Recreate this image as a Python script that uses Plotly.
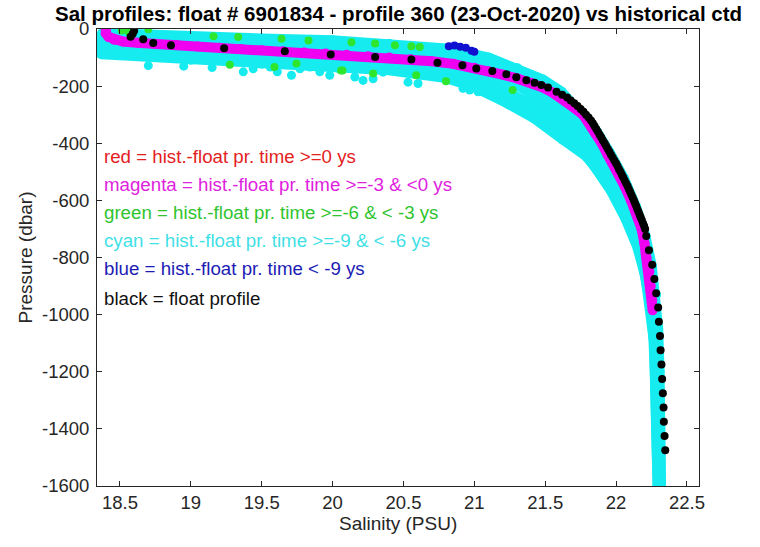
import plotly.graph_objects as go

# ---------------- data ----------------
# float profile (black)
float_sal = [18.60, 18.59, 18.575, 18.664, 18.735, 18.86, 19.235, 19.663, 19.987, 20.30,
             20.556, 20.74, 20.916, 21.014, 21.127, 21.226, 21.296, 21.367, 21.425, 21.473,
             21.52, 21.58, 21.62, 21.655, 21.68, 21.705, 21.728, 21.75, 21.77, 21.788,
             21.806, 21.823, 21.836, 21.848, 21.86, 21.872, 21.884, 21.896, 21.907, 21.919,
             21.93, 21.942, 21.953, 21.964, 21.976, 21.988, 22.0, 22.01, 22.02, 22.031,
             22.041, 22.051, 22.061, 22.071, 22.081, 22.09, 22.099, 22.108, 22.117, 22.126,
             22.134, 22.142, 22.15, 22.158, 22.166, 22.174, 22.182, 22.19, 22.198, 22.205,
             22.213, 22.232, 22.255, 22.27, 22.283, 22.297, 22.302, 22.31, 22.314, 22.32,
             22.325, 22.33, 22.335, 22.337, 22.342, 22.347]
float_pres = [-6, -17, -27, -36, -49, -57, -67, -78, -89, -98,
              -107, -118, -127, -138, -147, -158, -169, -179, -188, -196,
              -205, -220, -230, -240, -250, -260, -270, -280, -290, -300,
              -310, -320, -330, -340, -350, -360, -370, -380, -390, -400,
              -410, -420, -430, -440, -450, -460, -470, -480, -490, -500,
              -510, -520, -530, -540, -550, -560, -570, -580, -590, -600,
              -610, -620, -630, -640, -650, -660, -670, -680, -690, -700,
              -725, -775, -825, -875, -925, -975, -1025, -1075, -1125, -1175,
              -1225, -1275, -1325, -1375, -1425, -1475]

# historical profiles >=-3 & <0 ys (magenta)
mag_sal = [18.40, 18.40, 18.42, 18.46, 18.52, 18.62, 18.75, 18.90, 19.05, 19.20,
           19.35, 19.50, 19.65, 19.80, 19.95, 20.10, 20.25, 20.40, 20.55, 20.70,
           20.85, 21.00, 21.10, 21.20, 21.30, 21.40, 21.48, 21.55, 21.61, 21.66,
           21.715, 21.767, 21.81, 21.855, 21.898, 21.94, 21.975, 22.01, 22.06, 22.105,
           22.145, 22.18, 22.20, 22.215, 22.235, 22.245, 22.255, 22.258]
mag_pres = [-2, -15, -28, -38, -44, -48, -52, -56, -61, -66,
            -70, -74, -78, -82, -86, -90, -95, -100, -106, -113,
            -122, -136, -148, -160, -173, -188, -204, -222, -240, -255,
            -280, -300, -330, -365, -400, -440, -470, -500, -550, -600,
            -650, -700, -750, -800, -850, -900, -950, -985]

# historical profiles >=-9 & <-6 ys (cyan)
cyan1_sal = [18.38, 18.6, 19.0, 19.5, 20.0, 20.4, 20.8, 21.1, 21.3, 21.48,
             21.61, 21.725, 21.85, 21.95, 22.05, 22.135, 22.2, 22.245, 22.275, 22.29,
             22.30, 22.305, 22.31]
cyan1_pres = [-17, -22, -31, -37, -43, -55, -72, -103, -140, -180,
              -222, -285, -355, -435, -525, -625, -725, -830, -930, -1050,
              -1200, -1400, -1600]
cyan2_sal = [18.37, 18.6, 19.0, 19.5, 20.0, 20.4, 20.8, 21.1, 21.3, 21.47,
             21.62, 21.75, 21.865, 21.97, 22.07, 22.145, 22.205, 22.245, 22.27, 22.29,
             22.30, 22.31]
cyan2_pres = [-33, -40, -50, -58, -65, -77, -95, -125, -163, -208,
              -260, -325, -400, -490, -590, -690, -800, -910, -1020, -1150,
              -1350, -1600]
cyan3_sal = [18.37, 18.6, 19.0, 19.5, 20.0, 20.4, 20.8, 21.1, 21.3, 21.46,
             21.6, 21.74, 21.88, 22.0, 22.1, 22.17, 22.225, 22.26, 22.28, 22.29,
             22.30, 22.305]
cyan3_pres = [-50, -57, -68, -78, -86, -98, -118, -150, -192, -240,
              -295, -365, -450, -550, -650, -750, -870, -980, -1100, -1250,
              -1400, -1600]
cyan4_sal = [18.37, 18.6, 19.0, 19.5, 20.0, 20.4, 20.8, 21.0, 21.2, 21.4,
             21.56, 21.7, 21.84, 21.97, 22.07, 22.155, 22.215, 22.25, 22.27, 22.28,
             22.29, 22.30]
cyan4_pres = [-68, -73, -86, -98, -107, -120, -145, -172, -215, -268,
              -325, -390, -470, -565, -660, -760, -870, -980, -1080, -1200,
              -1400, -1600]
cyan5_sal = [18.37, 18.5, 19.0, 19.5, 20.0, 20.4, 20.8, 21.0, 21.2, 21.42,
             21.63, 21.8, 21.97, 22.09, 22.18, 22.23, 22.26, 22.275, 22.285, 22.29,
             22.295, 22.30]
cyan5_pres = [-85, -88, -104, -118, -128, -141, -168, -200, -248, -308,
              -385, -445, -555, -665, -780, -900, -1000, -1100, -1250, -1400,
              -1500, -1600]
cyan_dots_sal = [18.70, 18.95, 19.15, 19.37, 19.44, 19.56, 19.61, 19.71, 19.77, 19.84,
                 19.91, 19.98, 20.05, 20.157, 20.215, 20.286, 20.356, 20.532, 20.603, 20.638,
                 20.733, 20.802, 20.86, 20.92, 20.967, 21.026, 21.096, 21.179, 21.249, 21.367]
cyan_dots_pres = [-128, -130, -135, -150, -139, -133, -150, -162, -139, -133,
                  -150, -162, -140, -168, -180, -174, -151, -186, -191, -162,
                  -162, -180, -168, -208, -214, -220, -214, -231, -243, -260]

# historical profiles >=-6 & <-3 ys (green)
green_sal = [18.512, 18.56, 18.70, 19.16, 19.334, 19.64, 19.83, 19.275, 19.59, 19.745,
             20.06, 20.133, 20.30, 20.44, 20.556, 20.615, 20.07, 20.286, 20.59, 20.80,
             21.27]
green_pres = [-5, -10, -1, -25, -28, -34, -40, -125, -133, -121,
              -145, -46, -51, -57, -60, -63, -145, -156, -162, -183,
              -214]

# historical profiles < -9 ys (blue)
blue_sal = [20.82, 20.86, 20.90, 20.94, 20.98, 21.00]
blue_pres = [-60, -58, -62, -66, -76, -80]

# axes ticks
x_ticks = [18.5, 19, 19.5, 20, 20.5, 21, 21.5, 22, 22.5]
x_tick_labels = ["18.5", "19", "19.5", "20", "20.5", "21", "21.5", "22", "22.5"]
y_ticks = [0, -200, -400, -600, -800, -1000, -1200, -1400, -1600]
y_tick_labels = ["0", "-200", "-400", "-600", "-800", "-1000", "-1200", "-1400", "-1600"]

# in-plot legend text
legend_texts = ["red = hist.-float pr. time >=0 ys",
                "magenta = hist.-float pr. time >=-3 & <0 ys",
                "green = hist.-float pr. time >=-6 & < -3 ys",
                "cyan = hist.-float pr. time >=-9 & < -6 ys",
                "blue = hist.-float pr. time < -9 ys",
                "black = float profile"]
legend_pres = [-448, -546, -644, -742, -840, -942]
legend_sal = 18.394

title_text = "Sal profiles: float # 6901834 - profile 360 (23-Oct-2020) vs historical ctd"
x_label = "Salinity (PSU)"
y_label = "Pressure (dbar)"

# ---------------- styles ----------------
C_CYAN = "#16ecf0"
C_MAG = "#f000f0"
C_GREEN = "#2ee62e"
C_BLUE = "#1010d0"
C_BLACK = "#000000"
legend_colors = ["#e3211e", "#de22de", "#2fc42f", "#3fdfe6", "#1c1cb4", "#111111"]
FONT = "Liberation Sans, Arial, Helvetica, sans-serif"
AX = "#262626"

fig = go.Figure()

for s, p in [(cyan1_sal, cyan1_pres), (cyan2_sal, cyan2_pres), (cyan3_sal, cyan3_pres),
             (cyan4_sal, cyan4_pres), (cyan5_sal, cyan5_pres)]:
    fig.add_trace(go.Scatter(x=s, y=p, mode="lines+markers",
                             line=dict(color=C_CYAN, width=12),
                             marker=dict(color=C_CYAN, size=12, line=dict(width=0)),
                             hoverinfo="skip", showlegend=False))
fig.add_trace(go.Scatter(x=cyan_dots_sal, y=cyan_dots_pres, mode="markers",
                         marker=dict(color=C_CYAN, size=9, line=dict(width=0)),
                         showlegend=False))
fig.add_trace(go.Scatter(x=green_sal, y=green_pres, mode="markers",
                         marker=dict(color=C_GREEN, size=8, line=dict(width=0)),
                         showlegend=False))
fig.add_trace(go.Scatter(x=blue_sal, y=blue_pres, mode="markers",
                         marker=dict(color=C_BLUE, size=8, line=dict(width=0)),
                         showlegend=False))
fig.add_trace(go.Scatter(x=mag_sal, y=mag_pres, mode="lines+markers",
                         line=dict(color=C_MAG, width=10),
                         marker=dict(color=C_MAG, size=10, line=dict(width=0)),
                         showlegend=False))
fig.add_trace(go.Scatter(x=float_sal, y=float_pres, mode="markers",
                         marker=dict(color=C_BLACK, size=8, line=dict(width=0)),
                         showlegend=False))

annotations = []
for txt, pr, col in zip(legend_texts, legend_pres, legend_colors):
    annotations.append(dict(x=legend_sal, y=pr, xref="x", yref="y", xshift=-3,
                            text=txt.replace("<", "&lt;"),
                            showarrow=False, xanchor="left", yanchor="middle",
                            font=dict(family=FONT, size=18.7, color=col)))
annotations.append(dict(x=0.5, y=1, xref="paper", yref="paper", yshift=16,
                        text="<b>" + title_text + "</b>", showarrow=False,
                        xanchor="center", yanchor="middle",
                        font=dict(family=FONT, size=20.5, color="#000000")))
annotations.append(dict(x=0.5, y=0, xref="paper", yref="paper", yshift=-37,
                        text=x_label, showarrow=False, xanchor="center", yanchor="middle",
                        font=dict(family=FONT, size=19, color=AX)))
annotations.append(dict(x=0, y=0.5, xref="paper", yref="paper", xshift=-72,
                        text=y_label, showarrow=False, xanchor="center", yanchor="middle",
                        textangle=-90, font=dict(family=FONT, size=19, color=AX)))

axis_common = dict(showgrid=False, zeroline=False, showline=True, linecolor=AX, linewidth=1,
                   mirror="allticks", ticks="inside", ticklen=5, tickcolor=AX, tickwidth=1,
                   tickfont=dict(family=FONT, size=18.5, color=AX))

fig.update_layout(
    width=760, height=547,
    margin=dict(l=97, r=61, t=29, b=61),
    paper_bgcolor="white", plot_bgcolor="white",
    xaxis=dict(range=[18.338, 22.585], tickmode="array", tickvals=x_ticks,
               ticktext=x_tick_labels, **axis_common),
    yaxis=dict(range=[-1600, 0], tickmode="array", tickvals=y_ticks,
               ticktext=y_tick_labels, ticklabelstandoff=3, **axis_common),
    annotations=annotations,
    showlegend=False,
    hovermode=False,
)

# remove the page's default 8px body margin so the figure fills the window exactly
fig.write_html("out.html",
               config={"displayModeBar": False, "staticPlot": True},
               post_script="document.body.style.margin='0';document.body.style.overflow='hidden';")
